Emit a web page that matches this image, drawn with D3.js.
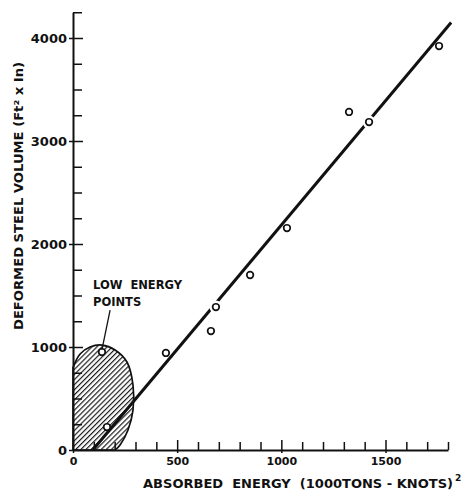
<!DOCTYPE html>
<html><head><meta charset="utf-8">
<script src="https://cdn.jsdelivr.net/npm/d3@7"></script>
<style>
body{margin:0;background:#fff}
svg{display:block}
text{font-family:"DejaVu Sans",sans-serif;font-weight:bold;fill:#111}
</style>
</head><body>
<svg id="c" width="462" height="493"></svg>
<script>
// ---- data ----
const energy = [163, 139, 446, 662, 686, 850, 1027, 1325, 1421, 1757];   // 1000 tons-knots squared
const volume = [223, 951, 942, 1155, 1388, 1699, 2155, 3282, 3184, 3922]; // ft^2 x in
const fitEnergy = [95, 1815];
const fitVolume = [0, 4150];
// boundary of the hatched region: runs up the volume axis, then around the curve back to the energy axis
const regionEnergy = [0, 0, 34, 82, 139, 202, 259, 288, 288, 264, 226, 202];
const regionVolume = [0, 800, 932, 1000, 1019, 971, 854, 631, 388, 194, 49, 0];
const xMajor = [0, 500, 1000, 1500];
const xMajorLabels = ["0", "500", "1000", "1500"];
const xMinor = [100, 200, 300, 400, 600, 700, 800, 900, 1100, 1200, 1300, 1400, 1600, 1700, 1800];
const yMajor = [0, 1000, 2000, 3000, 4000];
const yMajorLabels = ["0", "1000", "2000", "3000", "4000"];
const yMinor = [250, 500, 750, 1250, 1500, 1750, 2250, 2500, 2750, 3250, 3500, 3750, 4250];
const noteLines = ["LOW  ENERGY", "POINTS"];
const noteAnchor = [96, 1563];      // data coords of the note text
const leaderFrom = [178, 1359];
const leaderTo = [139, 975];
const xTitle = "ABSORBED  ENERGY  (1000TONS - KNOTS)";
const yTitle = "DEFORMED STEEL VOLUME (Ft² x In)";

// ---- scales ----
const x = d3.scaleLinear().domain([0, 1800]).range([73, 448]);
const y = d3.scaleLinear().domain([0, 4250]).range([450, 12.25]);

const svg = d3.select("#c");
const ink = "#111";

// hatch pattern
const defs = svg.append("defs");
const pat = defs.append("pattern").attr("id", "hatch").attr("patternUnits", "userSpaceOnUse")
  .attr("width", 3.6).attr("height", 4).attr("patternTransform", "rotate(45)");
pat.append("line").attr("x1", 0.6).attr("y1", 0).attr("x2", 0.6).attr("y2", 4)
  .attr("stroke", ink).attr("stroke-width", 1.15);

// hatched low energy region (straight along the axis, curved elsewhere)
const regionPts = regionEnergy.map((e, i) => [e, regionVolume[i]]);
const curveD = d3.line().x(d => x(d[0])).y(d => y(d[1])).curve(d3.curveCatmullRom)(regionPts.slice(1));
svg.append("path")
  .attr("d", `M${x(regionPts[0][0])},${y(regionPts[0][1])}` + curveD.replace(/^M/, "L") + "Z")
  .attr("fill", "url(#hatch)").attr("stroke", ink).attr("stroke-width", 1.7);

// axes
function style(g) {
  g.selectAll(".domain").attr("stroke", ink).attr("stroke-width", 2);
  g.selectAll(".tick line").attr("stroke", ink).attr("stroke-width", 1.5);
}
const gy = svg.append("g").attr("transform", `translate(${x(0)},0)`);
gy.append("g").call(d3.axisLeft(y).tickValues(yMajor).tickFormat((d, i) => yMajorLabels[i])
  .tickSizeInner(4).tickSizeOuter(0).tickPadding(2))
  .call(style)
  .call(g => g.selectAll("text").attr("font-size", 13).attr("font-family", "DejaVu Sans").attr("font-weight", "bold").attr("fill", ink));
gy.append("g").call(d3.axisRight(y).tickValues(yMajor.filter(v => v > 0)).tickFormat("").tickSize(10))
  .call(style).call(g => g.select(".domain").remove());
gy.append("g").call(d3.axisRight(y).tickValues(yMinor).tickFormat("").tickSize(9))
  .call(style).call(g => g.select(".domain").remove());

const gx = svg.append("g").attr("transform", `translate(0,${y(0)})`);
gx.append("g").call(d3.axisBottom(x).tickValues(xMajor).tickFormat((d, i) => xMajorLabels[i])
  .tickSizeInner(3).tickSizeOuter(0).tickPadding(4))
  .call(style)
  .call(g => g.selectAll("text").attr("font-size", 11).attr("font-family", "DejaVu Sans").attr("font-weight", "bold").attr("fill", ink));
gx.append("g").call(d3.axisBottom(x).tickValues(xMajor.filter(v => v > 0)).tickFormat("").tickSize(-10))
  .call(style).call(g => g.select(".domain").remove());
gx.append("g").call(d3.axisBottom(x).tickValues(xMinor).tickFormat("").tickSize(-8))
  .call(style).call(g => g.select(".domain").remove());

// regression line
const fitPts = fitEnergy.map((e, i) => [e, fitVolume[i]]);
svg.append("path")
  .attr("d", d3.line().x(d => x(d[0])).y(d => y(d[1]))(fitPts))
  .attr("stroke", ink).attr("stroke-width", 3).attr("fill", "none");

// points (white halo where a point sits on the line)
const p0 = [x(fitEnergy[0]), y(fitVolume[0])], p1 = [x(fitEnergy[1]), y(fitVolume[1])];
function distToLine(px, py) {
  const dx = p1[0] - p0[0], dy = p1[1] - p0[1];
  return Math.abs(dy * (px - p0[0]) - dx * (py - p0[1])) / Math.hypot(dx, dy);
}
const pts = energy.map((e, i) => ({ e, v: volume[i] }));
svg.append("g").selectAll("circle").data(pts.filter(d => distToLine(x(d.e), y(d.v)) < 3.5 && d.e > 300))
  .join("circle").attr("cx", d => x(d.e)).attr("cy", d => y(d.v)).attr("r", 6.5).attr("fill", "#fff");
svg.append("g").selectAll("circle").data(pts).join("circle")
  .attr("cx", d => x(d.e)).attr("cy", d => y(d.v)).attr("r", 3.3)
  .attr("fill", "#fff").attr("stroke", ink).attr("stroke-width", 1.7);

// annotation
svg.append("line")
  .attr("x1", x(leaderFrom[0])).attr("y1", y(leaderFrom[1]))
  .attr("x2", x(leaderTo[0])).attr("y2", y(leaderTo[1]))
  .attr("stroke", ink).attr("stroke-width", 1.3);
svg.append("g").selectAll("text").data(noteLines).join("text")
  .attr("x", x(noteAnchor[0])).attr("y", (d, i) => y(noteAnchor[1]) + i * 17)
  .attr("font-size", 11.5).style("white-space", "pre")
  .text(d => d);

// axis titles
svg.append("text")
  .attr("transform", "translate(23,196) rotate(-90)")
  .attr("text-anchor", "middle").attr("font-size", 12.5)
  .attr("textLength", 268).attr("lengthAdjust", "spacingAndGlyphs")
  .text(yTitle);
svg.append("text").attr("x", 143).attr("y", 488).attr("font-size", 13)
  .attr("textLength", 310).attr("lengthAdjust", "spacingAndGlyphs")
  .style("white-space", "pre").text(xTitle);
svg.append("text").attr("x", 455).attr("y", 481).attr("font-size", 9).text("2");
</script>
</body></html>
